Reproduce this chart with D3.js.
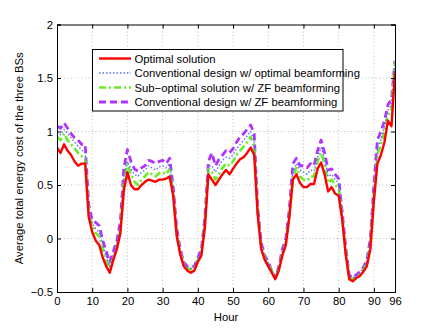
<!DOCTYPE html>
<html><head><meta charset="utf-8">
<script src="https://cdn.jsdelivr.net/npm/d3@7"></script>
<style>body{margin:0;background:#fff}svg{display:block}text{font-family:"Liberation Sans",Arial,sans-serif}</style>
</head><body><svg id="c" width="436" height="328"></svg>
<script>
const hours = d3.range(0, 97);
const optimal = [0.85,0.80,0.88,0.82,0.78,0.72,0.68,0.70,0.70,0.20,0.06,-0.02,-0.06,-0.18,-0.26,-0.32,-0.20,-0.10,0.05,0.45,0.62,0.50,0.46,0.46,0.50,0.53,0.55,0.54,0.53,0.55,0.55,0.56,0.58,0.40,0.02,-0.15,-0.26,-0.30,-0.32,-0.30,-0.22,-0.16,0.10,0.60,0.55,0.50,0.55,0.60,0.64,0.60,0.65,0.70,0.74,0.76,0.80,0.85,0.78,0.22,-0.10,-0.20,-0.26,-0.32,-0.38,-0.30,-0.16,-0.06,0.20,0.55,0.60,0.52,0.48,0.48,0.51,0.51,0.65,0.71,0.60,0.44,0.48,0.42,0.40,0.18,-0.15,-0.38,-0.40,-0.37,-0.35,-0.31,-0.26,-0.10,0.35,0.70,0.78,0.90,1.10,1.05,1.55];
const convOpt = [1.00,0.97,1.02,0.98,0.94,0.90,0.86,0.83,0.80,0.27,0.14,0.09,0.06,-0.06,-0.17,-0.26,-0.15,-0.05,0.12,0.58,0.72,0.65,0.60,0.58,0.62,0.64,0.68,0.66,0.64,0.67,0.68,0.66,0.70,0.45,0.08,-0.12,-0.23,-0.27,-0.28,-0.27,-0.19,-0.12,0.18,0.68,0.68,0.62,0.68,0.73,0.76,0.75,0.78,0.84,0.88,0.92,0.96,1.00,0.92,0.28,-0.06,-0.17,-0.23,-0.30,-0.36,-0.27,-0.12,-0.02,0.25,0.62,0.70,0.64,0.62,0.60,0.64,0.63,0.76,0.85,0.75,0.58,0.60,0.55,0.52,0.22,-0.10,-0.35,-0.37,-0.35,-0.32,-0.28,-0.21,-0.03,0.45,0.85,0.92,1.05,1.20,1.25,1.62];
const subOptZF = [0.95,0.92,0.98,0.92,0.88,0.84,0.80,0.77,0.75,0.24,0.12,0.05,0.02,-0.10,-0.20,-0.28,-0.18,-0.08,0.08,0.52,0.70,0.60,0.53,0.50,0.55,0.58,0.62,0.60,0.58,0.61,0.62,0.60,0.65,0.42,0.05,-0.13,-0.24,-0.28,-0.29,-0.28,-0.20,-0.14,0.15,0.65,0.62,0.55,0.60,0.66,0.70,0.68,0.72,0.78,0.82,0.86,0.90,0.95,0.86,0.25,-0.08,-0.18,-0.24,-0.30,-0.37,-0.28,-0.14,-0.04,0.22,0.58,0.66,0.58,0.55,0.54,0.58,0.58,0.72,0.80,0.70,0.52,0.55,0.50,0.47,0.20,-0.12,-0.36,-0.38,-0.36,-0.33,-0.29,-0.23,-0.06,0.40,0.78,0.88,1.00,1.15,1.20,1.65];
const convZF = [1.05,1.03,1.08,1.03,0.98,0.94,0.92,0.88,0.88,0.32,0.17,0.15,0.12,-0.02,-0.12,-0.22,-0.12,-0.02,0.16,0.66,0.83,0.72,0.65,0.63,0.66,0.68,0.73,0.72,0.70,0.72,0.73,0.70,0.75,0.48,0.10,-0.10,-0.22,-0.26,-0.27,-0.26,-0.18,-0.10,0.20,0.72,0.80,0.68,0.74,0.78,0.82,0.80,0.84,0.90,0.95,0.98,1.02,1.06,0.98,0.30,-0.04,-0.16,-0.22,-0.30,-0.37,-0.26,-0.10,0.00,0.28,0.70,0.75,0.68,0.68,0.66,0.70,0.68,0.82,0.92,0.80,0.64,0.65,0.60,0.56,0.25,-0.08,-0.34,-0.37,-0.34,-0.31,-0.27,-0.20,0.00,0.50,0.92,1.00,1.10,1.25,1.30,1.66];
const xTicks = [0,10,20,30,40,50,60,70,80,90,96];
const yTicks = [-0.5,0,0.5,1,1.5,2];
const seriesNames = ["Optimal solution","Conventional design w/ optimal beamforming","Sub\u2212optimal solution w/ ZF beamforming","Conventional design w/ ZF beamforming"];

const styles = [
  {c:"#ff0000", w:2.4, d:null},
  {c:"#5a6cff", w:1.4, d:"1.5,2"},
  {c:"#66ee22", w:2.6, d:"7,3,2,3"},
  {c:"#b033ff", w:2.8, d:"7,4"}
];
const seriesData = [optimal, convOpt, subOptZF, convZF];
const FS = 11.3;

const svg = d3.select("#c");
const L=57, R=395, T=24.5, B=292;
const x = d3.scaleLinear().domain([0,96]).range([L,R]);
const y = d3.scaleLinear().domain([-0.5,2]).range([B,T]);

// grid
const g = svg.append("g");
xTicks.forEach(t=>{ if(t>0&&t<96) g.append("line").attr("x1",x(t)).attr("x2",x(t)).attr("y1",T).attr("y2",B).attr("stroke","#b0b0b0").attr("stroke-width",0.8).attr("stroke-dasharray","1,2.5"); });
yTicks.forEach(t=>{ if(t>-0.5&&t<2) g.append("line").attr("x1",L).attr("x2",R).attr("y1",y(t)).attr("y2",y(t)).attr("stroke","#b0b0b0").attr("stroke-width",0.8).attr("stroke-dasharray","1,2.5"); });

const line = d3.line().x((d,i)=>x(hours[i])).y(d=>y(d));
svg.append("clipPath").attr("id","cp").append("rect").attr("x",L).attr("y",T).attr("width",R-L).attr("height",B-T);
[3,2,1,0].forEach(k=>{
  svg.append("path").datum(seriesData[k]).attr("d",line).attr("fill","none")
    .attr("stroke",styles[k].c).attr("stroke-width",styles[k].w)
    .attr("stroke-dasharray",styles[k].d).attr("stroke-linejoin","round")
    .attr("clip-path","url(#cp)");
});

const xa = svg.append("g").attr("transform",`translate(0,${B})`).call(d3.axisBottom(x).tickValues(xTicks).tickSize(-4).tickPadding(5).tickFormat(d3.format("d")));
const xt = svg.append("g").attr("transform",`translate(0,${T})`).call(d3.axisTop(x).tickValues(xTicks).tickSize(-4).tickFormat(""));
const ya = svg.append("g").attr("transform",`translate(${L},0)`).call(d3.axisLeft(y).tickValues(yTicks).tickSize(-4).tickPadding(4).tickFormat(d=>d<0?"\u2212"+Math.abs(d):String(d)));
const yr = svg.append("g").attr("transform",`translate(${R},0)`).call(d3.axisRight(y).tickValues(yTicks).tickSize(-4).tickFormat(""));
[xa,xt,ya,yr].forEach(a=>{
  a.select(".domain").attr("stroke","#000").attr("stroke-width",1);
  a.selectAll(".tick line").attr("stroke","#000");
  a.selectAll("text").attr("font-size",FS).attr("fill","#000").attr("font-family","Liberation Sans, Arial, sans-serif");
});

svg.append("text").attr("x",(L+R)/2).attr("y",321).attr("text-anchor","middle").attr("font-size",FS).text("Hour");
svg.append("text").attr("transform",`translate(23,${(T+B)/2}) rotate(-90)`).attr("text-anchor","middle").attr("font-size",FS).text("Average total energy cost of the three BSs");

const lg = svg.append("g");
lg.append("rect").attr("x",92.5).attr("y",49.5).attr("width",250.5).attr("height",61.5).attr("fill","#fff").attr("stroke","#000").attr("stroke-width",1);
const rowsY=[58.5,73,87.5,102];
seriesNames.forEach((n,k)=>{
  lg.append("line").attr("x1",99).attr("x2",131).attr("y1",rowsY[k]).attr("y2",rowsY[k])
    .attr("stroke",styles[k].c).attr("stroke-width",styles[k].w).attr("stroke-dasharray",styles[k].d);
  lg.append("text").attr("x",134.5).attr("y",rowsY[k]+4).attr("font-size",FS).text(n);
});
</script></body></html>
